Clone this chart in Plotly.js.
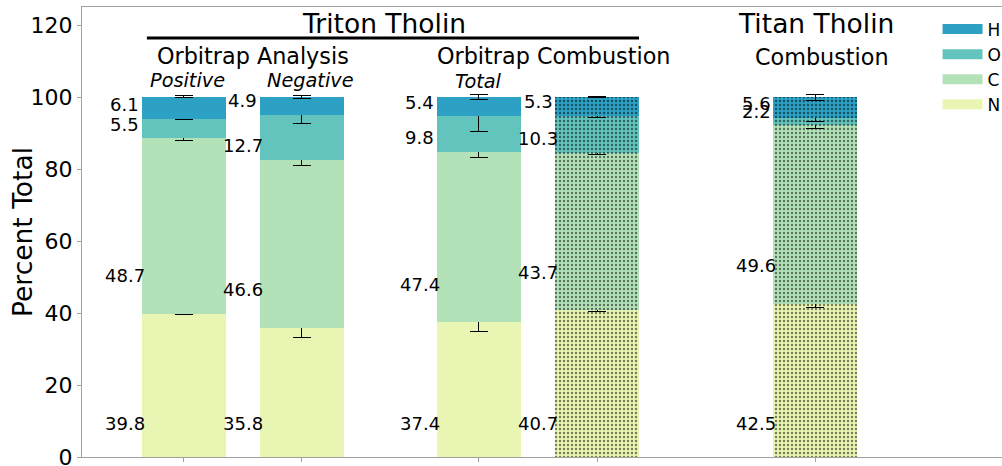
<!DOCTYPE html>
<html>
<head>
<meta charset="utf-8">
<script src="https://cdn.plot.ly/plotly-3.0.1.min.js"></script>
<style>
html,body{margin:0;padding:0;overflow:hidden;background:#fff;}
#chart{width:1030px;height:466px;}
</style>
</head>
<body>
<div id="chart"></div>
<script>
// ---- data ----
const barNames = ["Positive", "Negative", "Total", "Triton Combustion", "Titan Combustion"];
const barPos = [0, 0.5, 1.25, 1.75, 2.674];
const hatched = [false, false, false, true, true];

const valN = [39.8, 35.8, 37.4, 40.7, 42.5];
const valC = [48.7, 46.6, 47.4, 43.7, 49.6];
const valO = [5.5, 12.7, 9.8, 10.3, 2.2];
const valH = [6.1, 4.9, 5.4, 5.3, 5.6];

const errN = [0.3, 2.5, 2.6, 0.3, 0.9];
const errC = [0.7, 1.4, 1.7, 0.3, 0.8];
const errO = [0.3, 2.5, 4.3, 0.3, 1.1];
const errH = [0.3, 0.3, 0.8, 0.2, 0.9];

const layerNames = ["N", "C", "O", "H"];
const layerColors = ["#e9f5b2", "#b3e2b8", "#63c4be", "#2ca1c4"];
const yTicks = [0, 20, 40, 60, 80, 100, 120];
const yTitle = "Percent Total";

// ---- build ----
const layers = [
  {name: "N", vals: valN, errs: errN, color: layerColors[0], labOff: 9.3},
  {name: "C", vals: valC, errs: errC, color: layerColors[1], labOff: 10.6},
  {name: "O", vals: valO, errs: errO, color: layerColors[2], labOff: 4.0},
  {name: "H", vals: valH, errs: errH, color: layerColors[3], labOff: 4.0}
];

const FONT = "DejaVu Sans, Verdana, sans-serif";
const traces = [];
const annotations = [];
const bottoms = barPos.map(() => 0);

layers.forEach(L => {
  traces.push({
    type: "bar",
    x: barPos,
    y: L.vals,
    width: 0.356,
    name: L.name,
    showlegend: false,
    marker: {
      color: L.color,
      line: {width: 0},
      pattern: {
        shape: hatched.map(h => h ? "." : ""),
        fgcolor: "#000",
        size: 4,
        solidity: 0.28,
        fillmode: "overlay"
      }
    },
    error_y: {type: "data", array: L.errs, visible: true, color: "#000", thickness: 1, width: 9},
    hoverinfo: "y"
  });
  L.vals.forEach((v, i) => {
    annotations.push({
      x: barPos[i] - 0.25, y: bottoms[i] + L.labOff, xref: "x", yref: "y",
      text: v.toFixed(1), showarrow: false, xanchor: "center", yanchor: "middle",
      font: {family: FONT, size: 18, color: "#000"}
    });
    bottoms[i] += v;
  });
});

// legend proxies (H on top)
[3, 2, 1, 0].forEach(k => {
  traces.push({
    type: "scatter", mode: "lines", x: [null], y: [null],
    name: layerNames[k], line: {color: layerColors[k], width: 12},
    showlegend: true, hoverinfo: "skip"
  });
});

const headers = [
  {text: "Triton Tholin", x: 0.847, y: 120.4, size: 26.5, italic: false},
  {text: "Orbitrap Analysis", x: 0.292, y: 111.3, size: 22.3, italic: false},
  {text: "Orbitrap Combustion", x: 1.564, y: 111.3, size: 22.3, italic: false},
  {text: "Positive", x: 0.013, y: 104.6, size: 19.3, italic: true},
  {text: "Negative", x: 0.538, y: 104.6, size: 19.3, italic: true},
  {text: "Total", x: 1.246, y: 104.3, size: 19.3, italic: true},
  {text: "Titan Tholin", x: 2.678, y: 120.4, size: 26.5, italic: false},
  {text: "Combustion", x: 2.703, y: 111.1, size: 22.3, italic: false}
];
headers.forEach(h => annotations.push({
  x: h.x, y: h.y, xref: "x", yref: "y", text: h.italic ? "<i>" + h.text + "</i>" : h.text,
  showarrow: false, xanchor: "center", yanchor: "middle",
  font: {family: FONT, size: h.size, color: "#000"}
}));

// y-axis title
annotations.push({
  text: yTitle, xref: "paper", yref: "paper", x: 0, y: 0.5, xshift: -60,
  xanchor: "center", yanchor: "middle", textangle: -90, showarrow: false,
  font: {family: FONT, size: 26.5, color: "#000"}
});

const layout = {
  width: 1030, height: 466,
  margin: {l: 82, r: 15, t: 7, b: 9, pad: 0},
  paper_bgcolor: "#fff", plot_bgcolor: "#fff",
  barmode: "stack",
  font: {family: FONT, color: "#000"},
  xaxis: {
    range: [-0.432, 3.521], showgrid: false, zeroline: false,
    showline: true, linecolor: "#a0a0a0", linewidth: 1, mirror: true,
    ticks: "outside", ticklen: 4, tickcolor: "#a0a0a0",
    tickmode: "array", tickvals: barPos, showticklabels: false
  },
  yaxis: {
    range: [0, 125], showgrid: false, zeroline: false,
    showline: true, linecolor: "#a0a0a0", linewidth: 1, mirror: true,
    ticks: "outside", ticklen: 4, tickcolor: "#a0a0a0",
    tickmode: "array", tickvals: yTicks, ticklabeloverflow: "allow",
    tickfont: {family: FONT, size: 22, color: "#000"}
  },
  legend: {
    x: 0.917, y: 0.99, xanchor: "left", yanchor: "top", traceorder: "normal",
    itemwidth: 40,
    bgcolor: "rgba(0,0,0,0)", font: {family: FONT, size: 17, color: "#000"},
    tracegroupgap: 0
  },
  shapes: [{
    type: "line", xref: "x", yref: "y", x0: -0.157, x1: 1.928, y0: 116.4, y1: 116.4,
    line: {color: "#000", width: 3}
  }],
  annotations: annotations,
  showlegend: true
};

Plotly.newPlot("chart", traces, layout, {displayModeBar: false, staticPlot: true});
</script>
</body>
</html>
